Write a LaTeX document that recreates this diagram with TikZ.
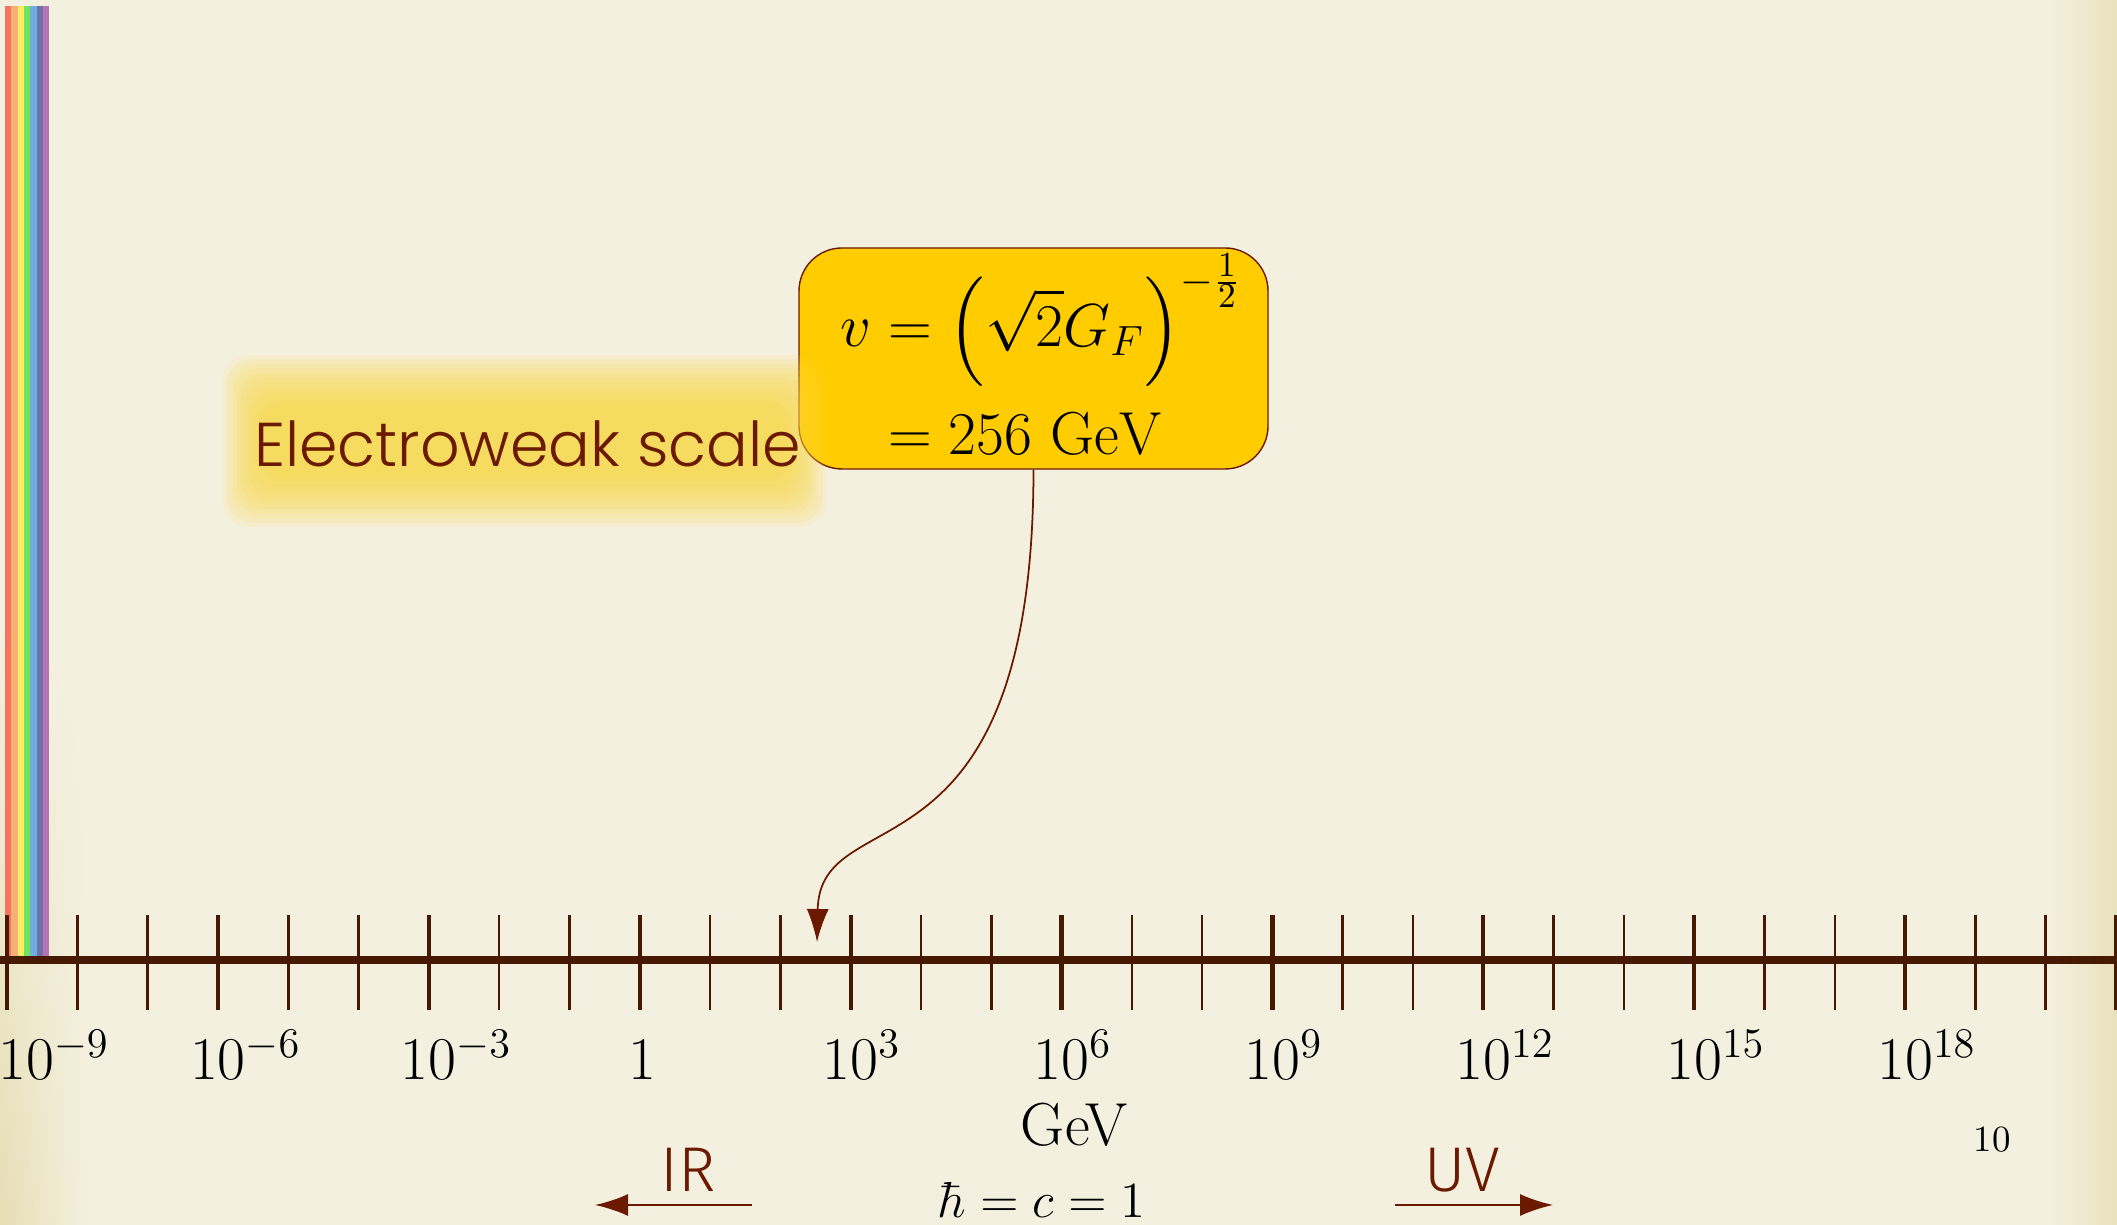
\documentclass[tikz,border=0pt]{standalone}
\usepackage{amsmath,amssymb}
\usepackage{fontspec}
\usepackage{xcolor}
\usepackage{tikz}
\usetikzlibrary{arrows.meta,shadings}
\IfFontExistsTF{Poppins Light}{\newfontfamily\ewfont{Poppins Light}}{\newfontfamily\ewfont{Poppins}}
\IfFontExistsTF{Fira Sans Light}{\newfontfamily\irfont{Fira Sans Light}}{\newfontfamily\irfont{Fira Sans}}
\definecolor{paper}{HTML}{F4F0DF}
\definecolor{paperdk}{HTML}{E6DDB4}
\definecolor{rust}{HTML}{6B1A00}
\definecolor{bark}{HTML}{461900}
\definecolor{gold}{HTML}{FFCC00}
\definecolor{glow}{HTML}{FFD83C}
\definecolor{rbA}{HTML}{F7735F}
\definecolor{rbB}{HTML}{F5B074}
\definecolor{rbC}{HTML}{F5EE62}
\definecolor{rbD}{HTML}{70E460}
\definecolor{rbE}{HTML}{70AEE0}
\definecolor{rbF}{HTML}{6E72A6}
\definecolor{rbG}{HTML}{B473B2}
\tikzset{fig/.style={line join=round,>={Latex[length=0.33cm,width=0.22cm]}},
  tick/.style={bark,line width=0.75pt},
  majortick/.style={bark,line width=1.2pt},
  lab/.style={anchor=base,font=\LARGE},
  vevbox/.style={draw=rust,line width=0.4pt,fill=gold,rounded corners=0.43cm,
    minimum width=4.69cm,minimum height=2.21cm,inner sep=0pt,
    text height=1.33cm,text depth=0.88cm,font=\LARGE},
  dirlab/.style={anchor=base,rust,font=\irfont\fontsize{18}{20}\selectfont},
  dirarrow/.style={rust,line width=0.6pt,->}}

\begin{document}
\begin{tikzpicture}[fig]
  \useasboundingbox (0,0) rectangle (21.17,12.25);
  \fill[paper] (0,0) rectangle (21.17,12.25);
  \shade[upper left=paper,lower left=paperdk,upper right=paper,lower right=paper] (0,0) rectangle (0.9,6.0);
  \shade[left color=paper,right color=paperdk!80!paper] (20.5,0) rectangle (21.17,12.25);
  % rainbow strip
  \foreach \c [count=\i from 0] in {rbA,rbB,rbC,rbD,rbE,rbF,rbG}
    \fill[\c] ({0.05+0.063*\i},2.69) rectangle +(0.064,9.50);

  % energy axis
  \draw[bark,line width=2.2pt] (0,2.65) -- (21.17,2.65);
  \foreach \d in {-8,-7,-5,-4,-2,-1,1,2,4,5,7,8,10,11,13,14,16,17,19,20}
    \draw[tick] ({0.07+0.703*(\d+9)},2.15) -- ({0.07+0.703*(\d+9)},3.10);
  \foreach \d in {-9,-6,...,21}
    \draw[majortick] ({0.07+0.703*(\d+9)},2.15) -- ({0.07+0.703*(\d+9)},3.10);
  \node[lab,anchor=base west] (em9) at (-0.14,1.45) {$10^{-9}$};
  \foreach \e in {-6,-3,3,6,9,12,15,18}
    \node[lab] (e\e) at ({0.07+0.703*(\e+9)},1.45) {$\phantom{{}^{\e}}10^{\e}$};
  \node[lab] (e0) at (6.42,1.45) {$1$};
  \node[lab] (gev) at (10.74,0.79) {GeV};
  \node[anchor=base,inner sep=1pt,font=\fontsize{14.4}{16}\selectfont] (units) at (10.42,0.07) {$\hbar=c=1$};
  \node[anchor=base,font=\fontsize{10.5}{12}\selectfont] (pnum) at (19.92,0.73) {10};

  % vev box
  \node[vevbox] (vev) at (10.335,8.665) {\hspace{0.15cm}$\begin{aligned} v &= \Big(\sqrt{2}G_F\Big)^{-\frac{1}{2}}\\ &= 256\ \mathrm{GeV}\end{aligned}$};
  \foreach \k in {0,...,11}
    \fill[glow,opacity=0.11,rounded corners=0.25cm] ({2.23+0.035*\k},{6.98+0.045*\k}) rectangle ({8.26-0.035*\k},{8.70-0.045*\k});
  \node[anchor=base,rust,font=\ewfont\fontsize{17.6}{20}\selectfont] (ew) at (5.275,7.58) {Electroweak scale};
  \coordinate (vevtip) at (8.17,2.83);
  \draw[rust,line width=0.5pt,->] (vev.south) .. controls (10.33,3.3) and (8.2,4.3) .. (vevtip);

  % IR and UV
  \node[dirlab] (ir) at (6.88,0.33) {IR};
  \node[dirlab] (uv) at (14.62,0.33) {UV};
  \coordinate (irtail) at (7.52,0.20);
  \coordinate (irhead) at (5.95,0.20);
  \coordinate (uvtail) at (13.95,0.20);
  \coordinate (uvhead) at (15.53,0.20);
  \draw[dirarrow] (irtail) -- (irhead);
  \draw[dirarrow] (uvtail) -- (uvhead);
\end{tikzpicture}
\end{document}
